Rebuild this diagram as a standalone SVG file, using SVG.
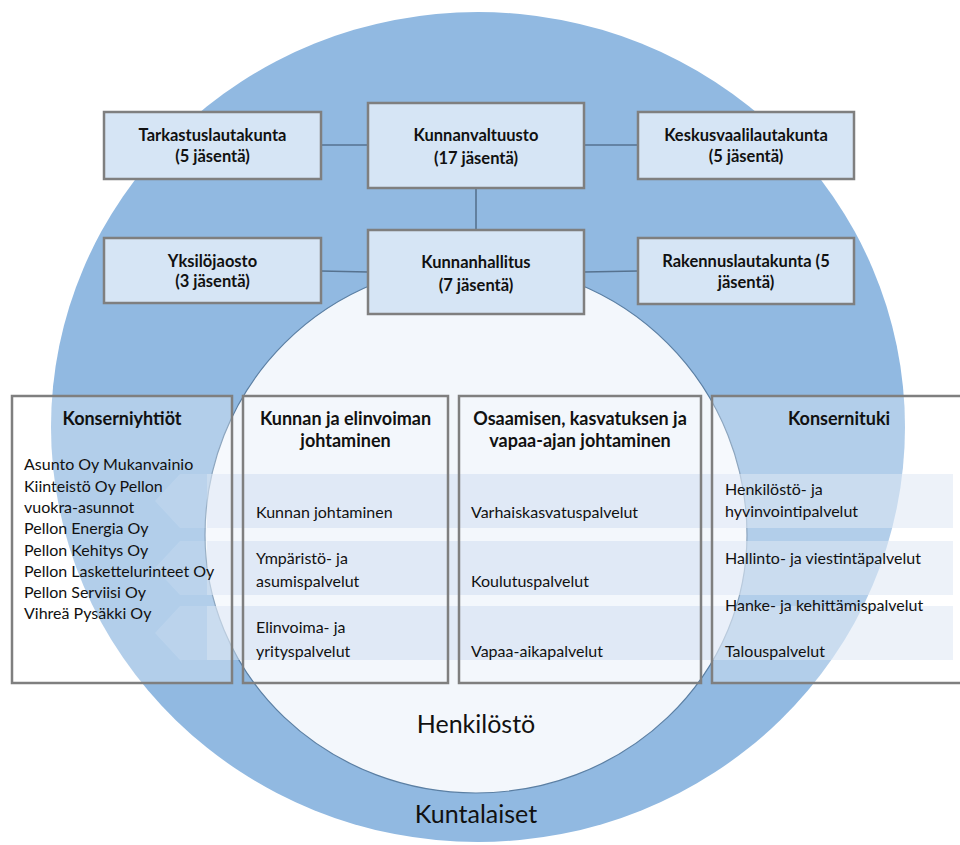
<svg xmlns="http://www.w3.org/2000/svg" width="960" height="845" viewBox="0 0 960 845">
<style>
.box{fill:#d6e5f5;stroke:#7f7f7f;stroke-width:2.5}
.col{stroke:#7f7f7f;stroke-width:2.5}
.t{font-family:Lato,"Open Sans","Liberation Sans",sans-serif;fill:#111;}
.b{font-weight:bold;font-size:16.5px;text-anchor:middle}
.h{font-weight:bold;font-size:18px;text-anchor:middle}
.r{font-size:16px}
.big{font-size:25px;text-anchor:middle}
.con{stroke:#56728f;stroke-width:1.6;fill:none}
.stripe{fill:#cfdff1;opacity:0.55}
.chev{fill:#ffffff;opacity:0.12}
</style>
<rect width="960" height="845" fill="#ffffff"/>
<g id="kuntalaiset">
<ellipse cx="478" cy="427" rx="427" ry="415" fill="#91b9e1"/>
</g>
<g id="henkilosto">
<path d="M205 535 A271 271 0 0 1 747 535 A271 258 0 0 1 205 535 Z" fill="#f3f7fc" stroke="#5b7fa3" stroke-width="1.2"/>
</g>
<g id="stripes">
<polygon class="chev" points="207,474 180,474 155,501 180,528 207,528"/>
<polygon class="chev" points="207,541 180,541 155,568 180,595 207,595"/>
<polygon class="chev" points="207,606 180,606 155,633 180,660 207,660"/>
<rect class="stripe" x="207" y="474" width="746" height="54"/>
<rect class="stripe" x="207" y="541" width="746" height="54"/>
<rect class="stripe" x="207" y="606" width="746" height="54"/>
</g>
<g id="connectors">
<line class="con" x1="321" y1="145" x2="368" y2="145"/>
<line class="con" x1="584" y1="145" x2="638" y2="145"/>
<line class="con" x1="476" y1="188" x2="476" y2="230"/>
<line class="con" x1="321" y1="271" x2="368" y2="272"/>
<line class="con" x1="584" y1="272" x2="638" y2="271"/>
</g>
<g id="tarkastuslautakunta">
<rect class="box" x="104" y="112" width="217" height="67"/>
<text class="t b" x="212.5" y="141">Tarkastuslautakunta</text>
<text class="t b" x="212.5" y="162">(5 jäsentä)</text>
</g>
<g id="kunnanvaltuusto">
<rect class="box" x="368" y="103" width="216" height="85"/>
<text class="t b" x="476" y="141">Kunnanvaltuusto</text>
<text class="t b" x="476" y="164">(17 jäsentä)</text>
</g>
<g id="keskusvaalilautakunta">
<rect class="box" x="638" y="112" width="216" height="67"/>
<text class="t b" x="746" y="141">Keskusvaalilautakunta</text>
<text class="t b" x="746" y="162">(5 jäsentä)</text>
</g>
<g id="yksilojaosto">
<rect class="box" x="104" y="238" width="217" height="65"/>
<text class="t b" x="212.5" y="267">Yksilöjaosto</text>
<text class="t b" x="212.5" y="287">(3 jäsentä)</text>
</g>
<g id="kunnanhallitus">
<rect class="box" x="368" y="230" width="216" height="84"/>
<text class="t b" x="476" y="268">Kunnanhallitus</text>
<text class="t b" x="476" y="291">(7 jäsentä)</text>
</g>
<g id="rakennuslautakunta">
<rect class="box" x="638" y="238" width="216" height="66"/>
<text class="t b" x="746" y="267">Rakennuslautakunta  (5</text>
<text class="t b" x="746" y="288">jäsentä)</text>
</g>
<g id="konserniyhtiot">
<rect class="col" x="12" y="396" width="220" height="287" fill="#ffffff" fill-opacity="0.3"/>
<text class="t h" x="122" y="425">Konserniyhtiöt</text>
<text class="t r" x="24"><tspan x="24" y="470">Asunto Oy Mukanvainio</tspan><tspan x="24" y="491.5">Kiinteistö Oy Pellon</tspan><tspan x="24" y="512.8">vuokra-asunnot</tspan><tspan x="24" y="534.1">Pellon Energia Oy</tspan><tspan x="24" y="555.5">Pellon Kehitys Oy</tspan><tspan x="24" y="576.8">Pellon Laskettelurinteet Oy</tspan><tspan x="24" y="598">Pellon Serviisi Oy</tspan><tspan x="24" y="619.3">Vihreä Pysäkki Oy</tspan></text>
</g>
<g id="kunnan-ja-elinvoiman-johtaminen">
<rect class="col" x="243" y="396" width="205" height="287" fill="none"/>
<text class="t h" x="345.5" y="425">Kunnan ja elinvoiman</text>
<text class="t h" x="345.5" y="447">johtaminen</text>
<text class="t r" x="256" y="517.5">Kunnan johtaminen</text>
<text class="t r" x="256" y="564">Ympäristö- ja</text>
<text class="t r" x="256" y="587.3">asumispalvelut</text>
<text class="t r" x="256" y="633.3">Elinvoima- ja</text>
<text class="t r" x="256" y="656.5">yrityspalvelut</text>
</g>
<g id="osaamisen-kasvatuksen-ja-vapaa-ajan-johtaminen">
<rect class="col" x="459" y="396" width="242" height="287" fill="none"/>
<text class="t h" x="580" y="425">Osaamisen, kasvatuksen ja</text>
<text class="t h" x="580" y="447">vapaa-ajan johtaminen</text>
<text class="t r" x="471" y="517.5">Varhaiskasvatuspalvelut</text>
<text class="t r" x="471" y="587.3">Koulutuspalvelut</text>
<text class="t r" x="471" y="656.7">Vapaa-aikapalvelut</text>
</g>
<g id="konsernituki">
<rect class="col" x="712" y="396" width="256" height="287" fill="#ffffff" fill-opacity="0.3"/>
<text class="t h" x="839" y="425">Konsernituki</text>
<text class="t r" x="725" y="495">Henkilöstö- ja</text>
<text class="t r" x="725" y="517.3">hyvinvointipalvelut</text>
<text class="t r" x="725" y="564">Hallinto- ja viestintäpalvelut</text>
<text class="t r" x="725" y="610.7">Hanke- ja kehittämispalvelut</text>
<text class="t r" x="725" y="656.7">Talouspalvelut</text>
</g>
<g id="labels">
<text class="t big" x="476" y="733">Henkilöstö</text>
<text class="t big" x="476" y="823">Kuntalaiset</text>
</g>
</svg>
